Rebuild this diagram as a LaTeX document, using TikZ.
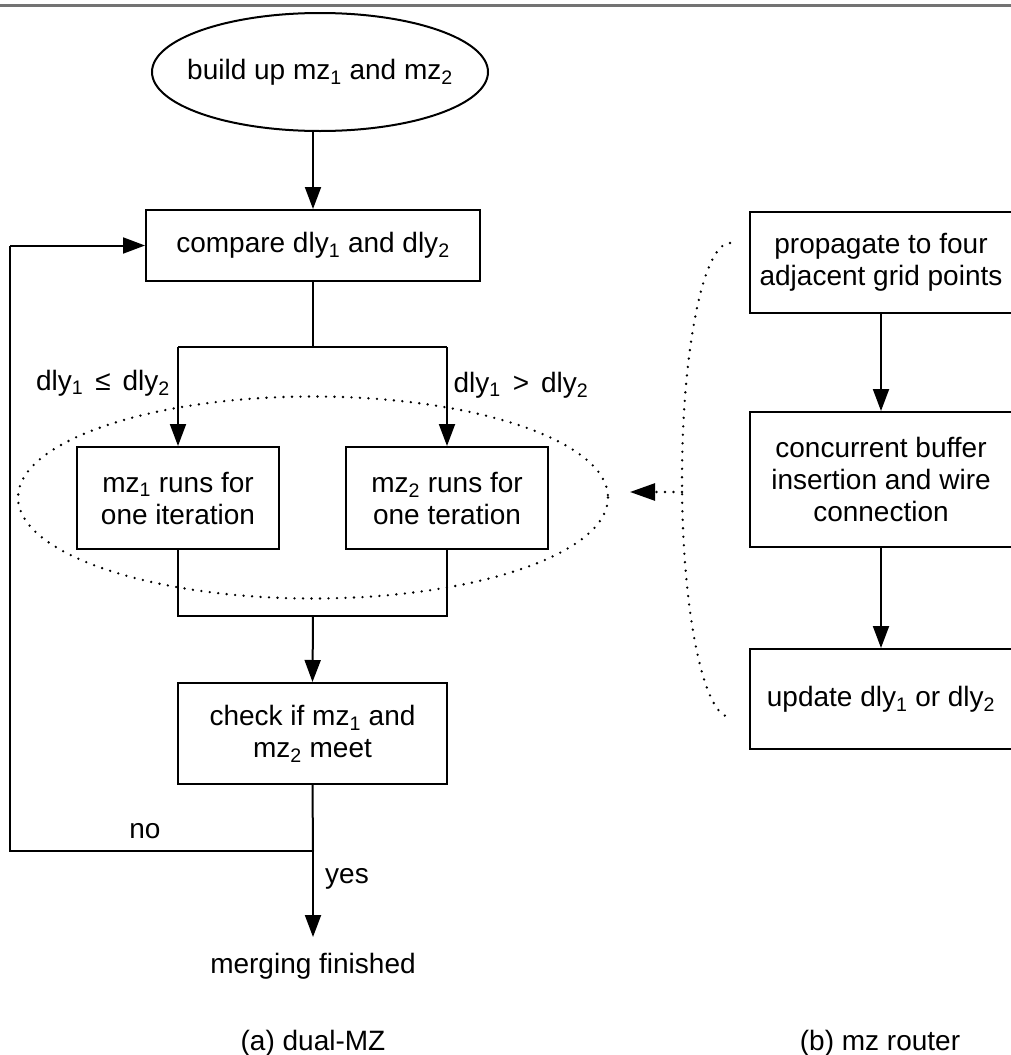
\documentclass[tikz,border=0pt]{standalone}
\usepackage{fontspec}
\setmainfont{Liberation Sans}
\usetikzlibrary{arrows.meta,shapes.geometric}

\tikzset{
  base/.style={font=\fontsize{28pt}{32pt}\selectfont, inner sep=0pt},
  procbox/.style={base, draw, line width=2pt, rectangle, align=center},
  termbox/.style={draw, line width=2pt, shape=ellipse, inner sep=0pt},
  plain/.style={base, align=center},
  wire/.style={line width=2pt},
  flow/.style={wire, -{Triangle[length=22pt,width=16pt]}},
  dotline/.style={line width=2.6pt, line cap=round, dash pattern=on 0pt off 8.5pt},
}

\begin{document}
\begin{tikzpicture}[x=1pt,y=-1pt]
  \useasboundingbox (0,0) rectangle (1011,1055);
  \begin{scope}
  \clip (0,0) rectangle (1011,1055);

  % rule along the top
  \draw[black!55, line width=3pt] (0,5) -- (1011,5);

  % ---- (a) dual-MZ flow ----
  \node[termbox, minimum width=336pt, minimum height=118pt] (start) at (320,72) {};
  \node[plain] (startlbl) at (start.center) {build up mz\textsubscript{1} and mz\textsubscript{2}};
  \node[procbox, minimum width=334pt, minimum height=71pt] (cmp) at (313,245.5)
    {compare dly\textsubscript{1} and dly\textsubscript{2}};
  \node[procbox, minimum width=202pt, minimum height=102pt] (mzA) at (178,498)
    {mz\textsubscript{1} runs for\\one iteration};
  \node[procbox, minimum width=202pt, minimum height=102pt] (mzB) at (447,498)
    {mz\textsubscript{2} runs for\\one teration};
  \node[procbox, minimum width=269pt, minimum height=101pt] (chk) at (312.5,733.5)
    {check if mz\textsubscript{1} and\\mz\textsubscript{2} meet};
  \node[plain] (fin) at (313,966) {merging finished};

  \node[plain, anchor=base] (le) at (103,390)
    {dly\textsubscript{1}\hspace{12pt}≤\hspace{12pt}dly\textsubscript{2}};
  \node[plain, anchor=base] (gt) at (521,392)
    {dly\textsubscript{1}\hspace{12pt}>\hspace{12pt}dly\textsubscript{2}};
  \node[plain] (no) at (145,831) {no};
  \node[plain] (yes) at (347,879) {yes};

  \coordinate (split) at (313,347);
  \coordinate (splitL) at (178,347);
  \coordinate (splitR) at (447,347);
  \coordinate (joinL) at (178,616);
  \coordinate (joinR) at (447,616);
  \coordinate (join) at (313,616);
  \coordinate (fork) at (313,851);
  \coordinate (done) at (313,937);
  \coordinate (loopB) at (10,851);
  \coordinate (loopT) at (10,245.5);

  \draw[flow] (start.south -| cmp.north) -- (cmp.north);
  \draw[wire] (cmp.south) -- (split);
  \draw[wire] (splitL) -- (splitR);
  \draw[flow] (splitL) -- (mzA.north);
  \draw[flow] (splitR) -- (mzB.north);
  \draw[wire] (mzA.south) -- (joinL) -- (joinR) -- (mzB.south);
  \draw[flow] (join) -- (chk.north);
  \draw[wire] (chk.south) -- (fork);
  \draw[flow] (fork) -- (done);
  \draw[wire] (fork) -- (loopB) -- (loopT);
  \draw[flow] (loopT) -- (cmp.west);

  \node[plain] (capA) at (313,1043) {(a) dual-MZ};

  % ---- (b) mz router ----
  \node[procbox, minimum width=262pt, minimum height=101pt] (pr1) at (881,262.5)
    {propagate to four\\adjacent grid points};
  \node[procbox, minimum width=262pt, minimum height=135pt] (pr2) at (881,479.5)
    {concurrent buffer\\insertion and wire\\connection};
  \node[procbox, minimum width=262pt, minimum height=100pt] (pr3) at (881,699)
    {update dly\textsubscript{1} or dly\textsubscript{2}};
  \draw[flow] (pr1) -- (pr2);
  \draw[flow] (pr2) -- (pr3);

  \node[plain] (capB) at (880,1043) {(b) mz router};

  % dotted ring round the two iteration boxes, and the link to it
  \draw[dotline] (313,497.5) ellipse [x radius=295, y radius=101];
  \draw[dotline] (730,243) arc [start angle=270, end angle=90, x radius=48, y radius=237];
  \coordinate (arcW) at (682,492);
  \coordinate (ringE) at (630,492);
  \draw[dotline, -{Triangle[length=25pt,width=17pt]}] (arcW) -- (ringE);
  \end{scope}
\end{tikzpicture}
\end{document}
